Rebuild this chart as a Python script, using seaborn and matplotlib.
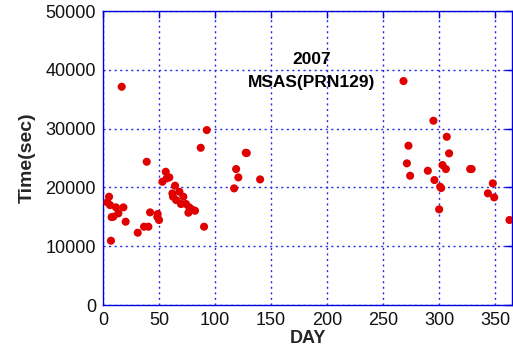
import matplotlib
matplotlib.use("Agg")
import matplotlib.pyplot as plt
import seaborn as sns
import pandas as pd

days = [16.7, 5.4, 3.9, 6.3, 11.6, 18.2, 13.7, 9.2, 7.7, 20.2, 7.1,
        39.0, 42.0, 36.6, 40.5, 31.0, 48.8, 48.5, 50.0, 53.0, 56.0, 56.8,
        59.2, 64.3, 61.9, 62.5, 65.2, 68.2, 71.7, 69.6, 74.1, 77.0, 76.2,
        79.2, 82.1, 87.2, 92.6, 90.2, 117.0, 118.8, 120.8, 127.4, 128.3, 140.2,
        268.2, 294.9, 272.6, 306.8, 308.9, 271.2, 274.1, 289.9, 295.8, 303.0,
        306.0, 300.9, 301.8, 300.0, 327.7, 329.0, 347.9, 343.5, 349.1, 362.8]
times = [37130, 18420, 17460, 17000, 16610, 16610, 15590, 15020, 14960, 14170, 10940,
         24370, 15760, 13320, 13320, 12300, 15480, 14960, 14460, 20970, 22670, 21540,
         21710, 20300, 18990, 18420, 17860, 19270, 18420, 17180, 17180, 16610, 15700,
         16270, 16040, 26750, 29760, 13320, 19840, 23130, 21710, 25900, 25850, 21370,
         38100, 31350, 27100, 28620, 25800, 24100, 21990, 22840, 21260, 23810,
         23130, 20120, 19900, 16270, 23130, 23130, 20700, 19000, 18310, 14460]

x_ticks = [0, 50, 100, 150, 200, 250, 300, 350]
y_ticks = [0, 10000, 20000, 30000, 40000, 50000]
title_lines = ["2007", "MSAS(PRN129)"]

sns.set_style("white")
plt.rcParams['font.family'] = ['Liberation Sans', 'DejaVu Sans']

df = pd.DataFrame({"DAY": days, "Time": times})

fig = plt.figure(figsize=(5.13, 3.58), dpi=100)
ax = fig.add_axes([0.2008, 0.148, 0.7972, 0.821])
sns.scatterplot(data=df, x="DAY", y="Time", ax=ax, color="#e00000",
                edgecolor="none", s=34, zorder=3, legend=False)

ax.set_xlim(0, 365)
ax.set_ylim(0, 50000)
ax.set_xticks(x_ticks)
ax.set_yticks(y_ticks)
ax.set_xticklabels([str(v) for v in x_ticks], fontsize=13)
ax.set_yticklabels([str(v) for v in y_ticks], fontsize=13)
ax.grid(True, color="#2a2ae6", linestyle=(0, (1.5, 2.5)), linewidth=1.0)
for sp in ax.spines.values():
    sp.set_color("#0000dd")
    sp.set_linewidth(1.0)
ax.tick_params(axis="both", direction="in", colors="#0000dd", labelcolor="#111111",
               length=5, width=1.0, top=True, right=True, pad=5)
ax.set_xlabel("DAY", fontsize=13, fontweight="bold", labelpad=1)
ax.set_ylabel("Time(sec)", fontsize=14, fontweight="bold", labelpad=7)

ax.text(186, 41700, title_lines[0], ha="center", va="center", fontsize=12.5,
        fontweight="bold", color="black")
ax.text(186, 37800, title_lines[1], ha="center", va="center", fontsize=12.5,
        fontweight="bold", color="black")

fig.savefig("out.png", dpi=100)
